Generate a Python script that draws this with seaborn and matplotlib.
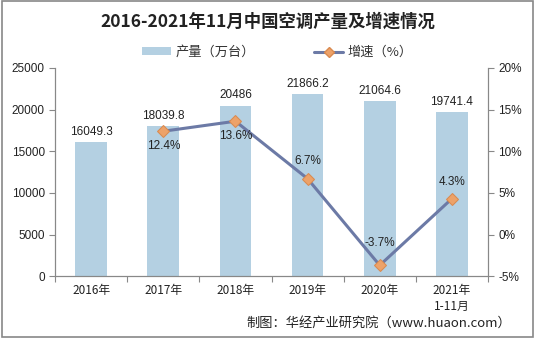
import matplotlib
matplotlib.use("Agg")
import matplotlib.pyplot as plt
import seaborn as sns
import pandas as pd
from matplotlib.lines import Line2D
from matplotlib.patches import Patch, Rectangle

categories = ["2016年", "2017年", "2018年", "2019年", "2020年", "2021年\n1-11月"]
output = [16049.3, 18039.8, 20486, 21866.2, 21064.6, 19741.4]
growth_x = ["2017年", "2018年", "2019年", "2020年", "2021年\n1-11月"]
growth = [12.4, 13.6, 6.7, -3.7, 4.3]
bar_labels = ["16049.3", "18039.8", "20486", "21866.2", "21064.6", "19741.4"]

sns.set_theme(style="white")
plt.rcParams['font.family'] = ['Noto Sans CJK SC', 'DejaVu Sans']

fig = plt.figure(figsize=(5.35, 3.38), dpi=100)
ax = fig.add_axes([0.103, 0.183, 0.809, 0.616])

df = pd.DataFrame({"cat": categories, "val": output})
sns.barplot(data=df, x="cat", y="val", ax=ax, color="#b4d0e2", width=0.44,
            saturation=1, edgecolor="none")
ax.set_ylim(0, 25000)
ax.set_yticks(range(0, 25001, 5000))
ax.set_xlim(-0.5, 5.5)
ax.set_xlabel("")
ax.set_ylabel("")
for i, v in enumerate(output):
    ax.text(i, v + 500, bar_labels[i], ha="center", va="bottom", fontsize=8.5,
            color="#222222", family=['Liberation Sans', 'DejaVu Sans'])

ax2 = ax.twinx()
gx = [categories.index(c) for c in growth_x]
gdf = pd.DataFrame({"x": gx, "g": growth})
sns.lineplot(data=gdf, x="x", y="g", ax=ax2, color="#6c7aa6", linewidth=2.2,
             marker="D", markersize=6, markerfacecolor="#eda269",
             markeredgecolor="#d98a50")
ax2.set_ylim(-5, 20)
ax2.set_yticks(range(-5, 21, 5))
ax2.set_yticklabels([f"{t}%" for t in range(-5, 21, 5)])
ax2.set_xlabel("")
ax2.set_ylabel("")
offsets = {0: -1.1, 1: -1.1, 2: 1.4, 3: 1.9, 4: 1.3}
for k, (x, g) in enumerate(zip(gx, growth)):
    off = offsets[k]
    ax2.text(x, g + off, f"{g}%", ha="center",
             va="top" if off < 0 else "bottom", fontsize=8.5, color="#222222",
             family=['Liberation Sans', 'DejaVu Sans'], zorder=5)

for a in (ax, ax2):
    for s in a.spines.values():
        s.set_color("#888888")
        s.set_linewidth(0.8)
    a.spines["top"].set_visible(False)
    a.tick_params(axis="y", labelsize=8.5, colors="#222222", length=4,
                  width=0.8, color="#888888", direction="out")
    for lab in a.get_yticklabels():
        lab.set_family(['Liberation Sans', 'DejaVu Sans'])
ax.tick_params(axis="y", left=True)
ax2.tick_params(axis="y", right=True)

ax.set_xticks(range(6))
ax.set_xticklabels(categories, fontsize=8.5, color="#222222")
ax.set_xticks([i + 0.5 for i in range(-1, 6)], minor=True)
ax.tick_params(axis="x", which="major", length=0, pad=6, bottom=True,
               labelbottom=True)
ax.tick_params(axis="x", which="minor", length=4, width=0.8, color="#888888",
               bottom=True, direction="out")
ax2.tick_params(axis="x", which="both", labelbottom=False, labeltop=False,
                top=False)
ax.set_xlim(-0.5, 5.5)

fig.text(0.5, 0.935, "2016-2021年11月中国空调产量及增速情况", ha="center",
         va="center", fontsize=12.5, fontweight="bold", color="#222222")

handles = [Patch(facecolor="#b4d0e2", edgecolor="none"),
           Line2D([0], [0], color="#6c7aa6", lw=2.2, marker="D", markersize=5,
                  markerfacecolor="#eda269", markeredgecolor="#d98a50")]
fig.legend(handles, ["产量（万台）", "增速（%）"], loc="center",
           bbox_to_anchor=(0.518, 0.845), ncol=2, frameon=False, fontsize=9.5,
           handlelength=2.2, columnspacing=4.5, handleheight=0.5,
           handletextpad=0.3, labelcolor="#333333")

fig.text(0.955, 0.045, "制图：华经产业研究院（www.huaon.com）", ha="right",
         va="center", fontsize=9.5, color="#222222")

fig.patches.append(Rectangle((0.004, 0.004), 0.992, 0.992, transform=fig.transFigure,
                             fill=False, edgecolor="#888888", linewidth=1.2))

fig.savefig("out.png", dpi=100)
